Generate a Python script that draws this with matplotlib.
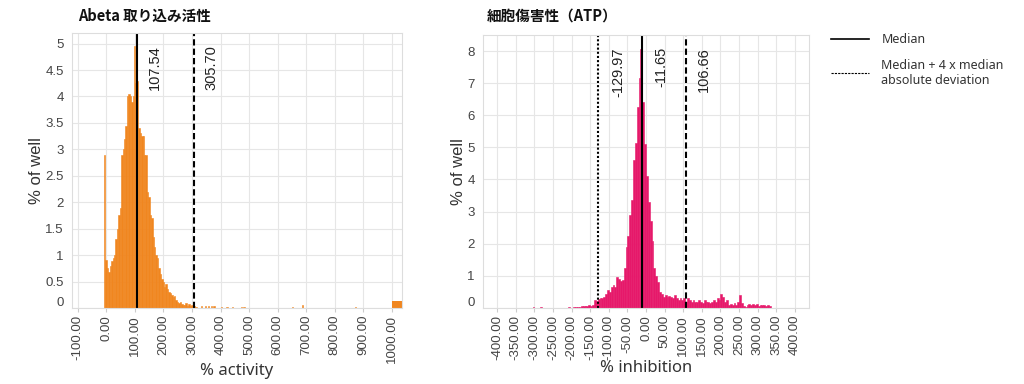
import matplotlib
matplotlib.use("Agg")
import matplotlib.pyplot as plt
import matplotlib.transforms as mtransforms
from matplotlib.lines import Line2D
from matplotlib.ticker import FuncFormatter
import numpy as np

# ---- data: Abeta uptake (% activity), 5-unit bins starting at -8 ----
abeta_start = -8
abeta_binw = 5
abeta_heights = [
    2.9, 0.9, 0.75, 0.68, 0.8, 0.88, 0.95, 1.0, 1.3, 1.5,
    1.75, 1.9, 2.9, 3.0, 3.2, 3.45, 4.0, 4.05, 4.0, 3.9,
    4.0, 4.95, 4.25, 4.3, 3.4, 3.3, 3.25, 3.25, 2.9, 2.9,
    2.2, 2.1, 1.75, 1.7, 1.35, 1.15, 1.0, 0.95, 0.75, 0.65,
    0.55, 0.5, 0.4, 0.45, 0.35, 0.3, 0.28, 0.25, 0.2, 0.22,
    0.15, 0.12, 0.1, 0.12, 0.08, 0.06, 0.05, 0.1, 0.04, 0.08,
    0.04, 0.05, 0.02, 0.03, 0.02,
]
abeta_tail_x = [330, 345, 355, 365, 375, 400, 420, 440, 470, 480, 650, 685, 870]
abeta_tail_h = [0.03, 0.04, 0.04, 0.03, 0.03, 0.02, 0.02, 0.02, 0.02, 0.02, 0.02, 0.06, 0.01]
abeta_over_x = 1000
abeta_over_w = 35
abeta_over_h = 0.13
abeta_median = 107.54
abeta_mad4 = 305.70

# ---- data: cytotoxicity ATP (% inhibition), 5-unit bins starting at -210 ----
atp_start = -210
atp_binw = 5
atp_heights = [
    0.03, 0.0, 0.01, 0.02, 0.02, 0.03, 0.04, 0.05, 0.05, 0.06,
    0.06, 0.08, 0.07, 0.1, 0.25, 0.22, 0.28, 0.3, 0.3, 0.35,
    0.45, 0.55, 0.5, 0.65, 0.72, 0.65, 0.95, 0.9, 0.85, 0.88,
    1.25, 1.9, 2.25, 2.9, 3.35, 4.6, 5.15, 6.25, 7.15, 8.05,
    6.4, 5.1, 4.1, 3.3, 2.7, 2.1, 1.25, 1.0, 0.8, 0.5,
    0.45, 0.35, 0.4, 0.35, 0.38, 0.35, 0.3, 0.4, 0.3, 0.25,
    0.3, 0.25, 0.3, 0.2, 0.3, 0.25, 0.2, 0.25, 0.2, 0.2,
    0.25, 0.2, 0.15, 0.25, 0.2, 0.2, 0.15, 0.2, 0.25, 0.2,
    0.3, 0.25, 0.45, 0.35, 0.2, 0.25, 0.1, 0.12, 0.1, 0.15,
    0.1, 0.2, 0.4, 0.15, 0.05, 0.02, 0.1, 0.12, 0.1, 0.12,
    0.08, 0.12, 0.05, 0.1, 0.08, 0.1, 0.05, 0.1, 0.05,
]
atp_tail_x = [-305, -285]
atp_tail_h = [0.03, 0.03]
atp_median = -11.65
atp_mad_lo = -129.97
atp_mad_hi = 106.66

abeta_xticks = list(range(-100, 1001, 100))
atp_xticks = list(range(-400, 401, 50))
abeta_yticks = [0, 0.5, 1, 1.5, 2, 2.5, 3, 3.5, 4, 4.5, 5]
atp_yticks = [0, 1, 2, 3, 4, 5, 6, 7, 8]

ORANGE = "#F0861F"
PINK = "#E6186A"
TICK_FONT = "Liberation Sans"
CJK = ["Noto Sans CJK JP", "DejaVu Sans"]

fig = plt.figure(figsize=(10.24, 3.84), dpi=100)
ax1 = fig.add_axes([0.0703, 0.198, 0.3223, 0.716])
ax2 = fig.add_axes([0.4717, 0.198, 0.3184, 0.711])


def style_axes(ax, xticks, yticks, xlim, ylim):
    ax.set_xlim(*xlim)
    ax.set_ylim(*ylim)
    ax.set_xticks(xticks)
    ax.set_yticks(yticks)
    ax.xaxis.set_major_formatter(FuncFormatter(lambda v, p: f"{v:.2f}"))
    ax.yaxis.set_major_formatter(FuncFormatter(lambda v, p: f"{v:g}"))
    ax.grid(True, color="#e6e6e6", linewidth=0.8)
    ax.set_axisbelow(True)
    for s in ax.spines.values():
        s.set_color("#dddddd")
        s.set_linewidth(0.8)
    ax.tick_params(axis="x", length=3, color="#cccccc", labelrotation=90,
                   labelsize=9.5, labelcolor="#444444", pad=2)
    ax.tick_params(axis="y", length=0, labelsize=9.5, labelcolor="#444444", pad=6)
    for lab in ax.get_xticklabels() + ax.get_yticklabels():
        lab.set_fontfamily(TICK_FONT)
    # zero label sits a bit above the baseline
    lab0 = ax.get_yticklabels()[0]
    lab0.set_transform(lab0.get_transform() +
                       mtransforms.ScaledTranslation(0, 4.5 / 72, fig.dpi_scale_trans))


def vline_label(ax, x, text, style, dx=8):
    ax.axvline(x, color="black", linewidth=1.5, linestyle=style)
    ax.annotate(text, xy=(x, 0.955), xycoords=("data", "axes fraction"),
                xytext=(dx, 0), textcoords="offset points", rotation=90,
                ha="left", va="top", fontsize=10.5, family=TICK_FONT, color="#222222")


# ---- left panel ----
abeta_x = abeta_start + abeta_binw * np.arange(len(abeta_heights))
ax1.bar(abeta_x, abeta_heights, width=abeta_binw, align="edge",
        color=ORANGE, edgecolor=ORANGE, linewidth=0.4)
ax1.bar(abeta_tail_x, abeta_tail_h, width=5, align="edge",
        color=ORANGE, edgecolor=ORANGE, linewidth=0.4)
ax1.bar([abeta_over_x], [abeta_over_h], width=abeta_over_w, align="edge",
        color=ORANGE, linewidth=0)
style_axes(ax1, abeta_xticks, abeta_yticks, (-120, 1035), (0, 5.2))
vline_label(ax1, abeta_median, f"{abeta_median:.2f}", "-")
vline_label(ax1, abeta_mad4, f"{abeta_mad4:.2f}", (0, (3, 1.5)))
ax1.set_ylabel("% of well", fontsize=12, family=TICK_FONT, color="#333333", labelpad=1)
ax1.set_xlabel("% activity", fontsize=12, family="Noto Sans", color="#333333", labelpad=0)

# ---- right panel ----
atp_x = atp_start + atp_binw * np.arange(len(atp_heights))
ax2.bar(atp_x, atp_heights, width=atp_binw, align="edge",
        color=PINK, edgecolor=PINK, linewidth=0.4)
ax2.bar(atp_tail_x, atp_tail_h, width=5, align="edge",
        color=PINK, edgecolor=PINK, linewidth=0.4)
style_axes(ax2, atp_xticks, atp_yticks, (-438, 438), (0, 8.5))
vline_label(ax2, atp_mad_lo, f"{atp_mad_lo:.2f}", (0, (1, 1)), dx=10)
vline_label(ax2, atp_median, f"{atp_median:.2f}", "-", dx=9)
vline_label(ax2, atp_mad_hi, f"{atp_mad_hi:.2f}", (0, (3, 1.5)), dx=8)
ax2.set_ylabel("% of well", fontsize=12, family=TICK_FONT, color="#333333", labelpad=1)
ax2.set_xlabel("% inhibition", fontsize=12, family="Noto Sans", color="#333333", labelpad=0)

# ---- titles ----
fig.text(78 / 1024, 1 - 16 / 384, "Abeta 取り込み活性", family=CJK, fontweight="bold",
         fontsize=10.5, va="center", ha="left", color="#111111")
fig.text(487 / 1024, 1 - 16 / 384, "細胞傷害性（ATP）", family=CJK, fontweight="bold",
         fontsize=10.5, va="center", ha="left", color="#111111")

# ---- legend ----
handles = [
    Line2D([], [], color="black", linewidth=1.2, linestyle="-"),
    Line2D([], [], color="black", linewidth=0.8, linestyle=(0, (2, 1))),
]
fig.legend(handles, ["Median", "Median + 4 x median\nabsolute deviation"],
           loc="upper left", bbox_to_anchor=(0.801, 0.943), frameon=False,
           handlelength=3.0, handletextpad=1.0, labelspacing=1.0,
           prop={"family": "Noto Sans", "size": 9}, labelcolor="#333333")

fig.savefig("out.png", dpi=100)
